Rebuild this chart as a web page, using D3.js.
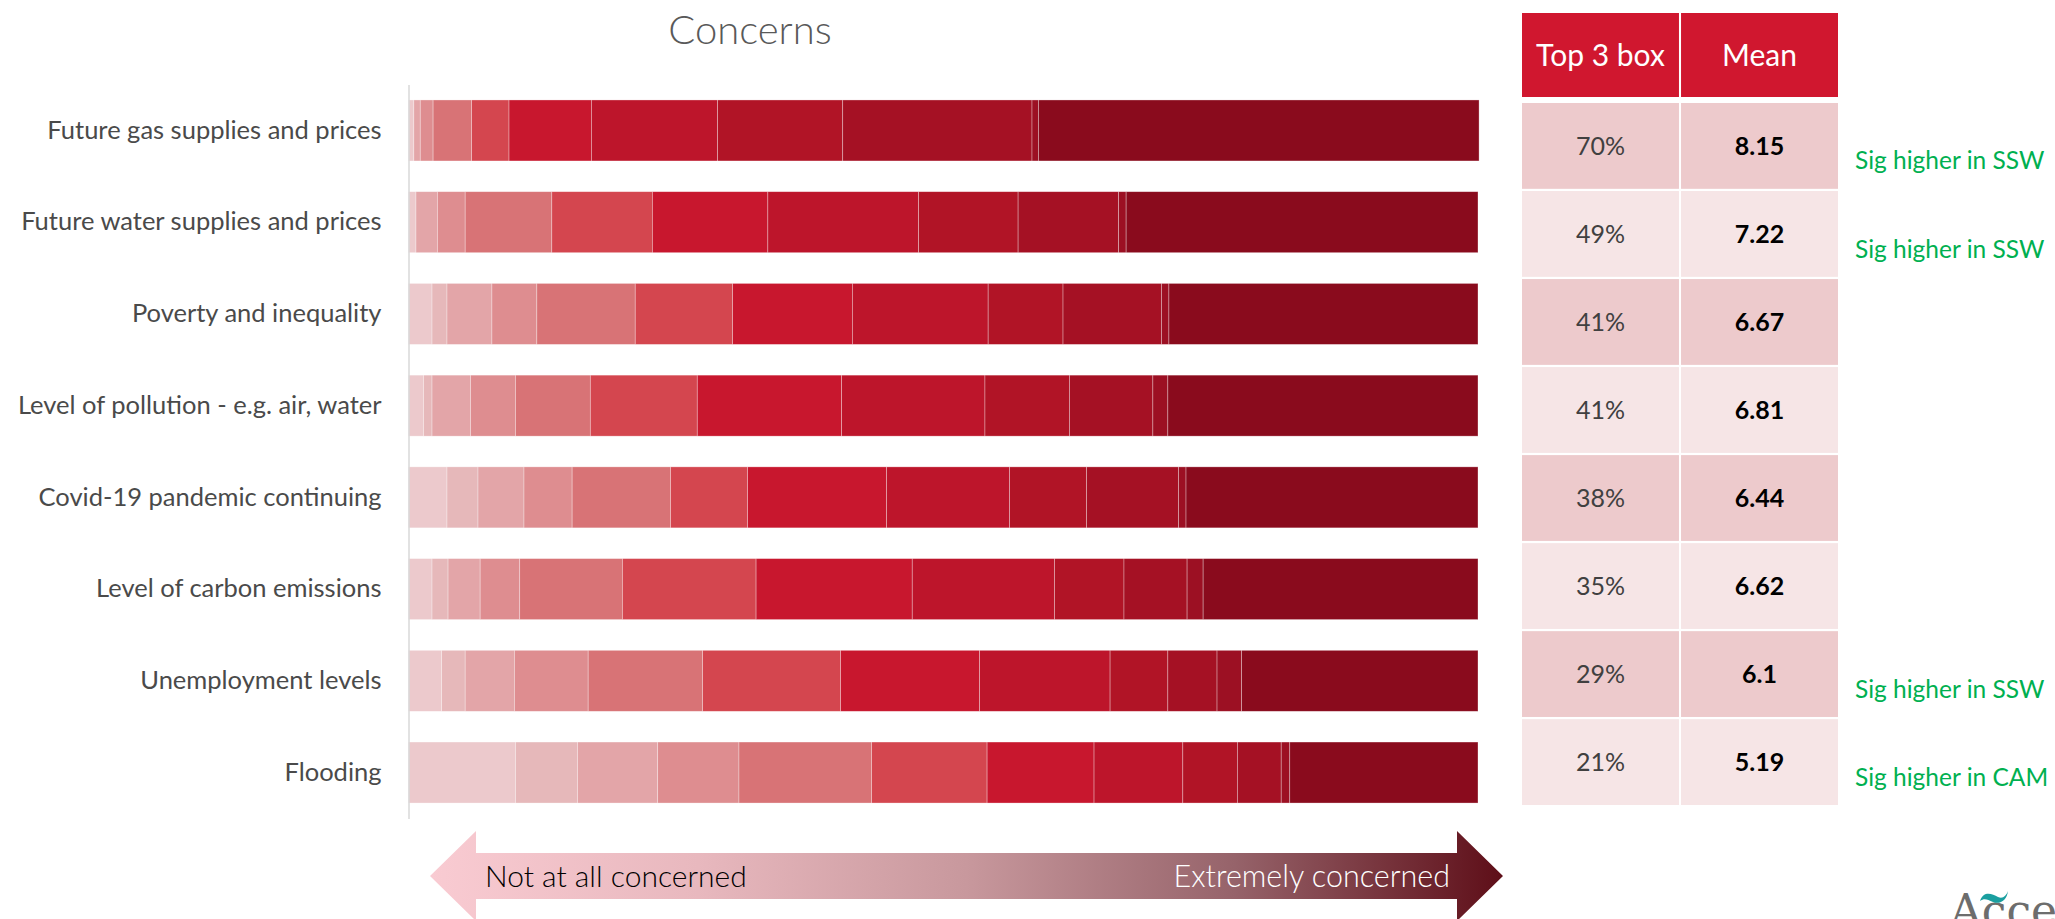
<!DOCTYPE html>
<html>
<head>
<meta charset="utf-8">
<script src="https://cdn.jsdelivr.net/npm/d3@7"></script>
<style>
  html, body { margin: 0; padding: 0; background: #ffffff; }
  svg { display: block; font-family: Lato, "Open Sans", "Noto Sans", sans-serif; }
</style>
</head>
<body>
<svg id="chart" width="2055" height="919"></svg>
<script>
// ---------------- DATA ----------------
const categories = [
  "Future gas supplies and prices",
  "Future water supplies and prices",
  "Poverty and inequality",
  "Level of pollution - e.g. air, water",
  "Covid-19 pandemic continuing",
  "Level of carbon emissions",
  "Unemployment levels",
  "Flooding"
];

// response levels, from "Not at all concerned" to "Extremely concerned"
const levels = ["0", "1", "2", "3", "4", "5", "6", "7", "8", "9", "Other", "10"];

// share of respondents (%) per level, one array per concern
const gas          = [0.5, 0.0, 0.6, 1.2, 3.6, 3.5, 7.7, 11.8, 11.7, 17.7, 0.6, 41.2];
const water        = [0.7, 0.0, 2.0, 2.6, 8.1, 9.4, 10.8, 14.1, 9.3, 9.4, 0.7, 32.9];
const poverty      = [2.2, 1.4, 4.2, 4.2, 9.2, 9.1, 11.2, 12.7, 7.0, 9.2, 0.7, 28.9];
const pollution    = [1.4, 0.8, 3.6, 4.2, 7.0, 10.0, 13.5, 13.4, 7.9, 7.8, 1.4, 29.0];
const covid        = [3.6, 2.9, 4.3, 4.5, 9.2, 7.2, 13.0, 11.5, 7.2, 8.6, 0.7, 27.3];
const carbon       = [2.2, 1.5, 3.0, 3.7, 9.6, 12.5, 14.6, 13.3, 6.5, 5.9, 1.5, 25.7];
const unemployment = [3.1, 2.2, 4.6, 6.9, 10.7, 12.9, 13.0, 12.2, 5.4, 4.6, 2.3, 22.1];
const flooding     = [10.0, 5.8, 7.5, 7.6, 12.4, 10.8, 10.0, 8.3, 5.1, 4.1, 0.8, 17.6];

const shares = [gas, water, poverty, pollution, covid, carbon, unemployment, flooding];

const tableHeaders = ["Top 3 box", "Mean"];
const top3box = [70, 49, 41, 41, 38, 35, 29, 21];
const means   = [8.15, 7.22, 6.67, 6.81, 6.44, 6.62, 6.1, 5.19];
const sigNotes = ["Sig higher in SSW", "Sig higher in SSW", "", "", "", "", "Sig higher in SSW", "Sig higher in CAM"];

const levelColors = ["#ecc9cc", "#e6b8ba", "#e3a5a8", "#de8d90", "#d87376", "#d4464f",
                     "#c8172e", "#bd152b", "#b11426", "#a51124", "#9c1023", "#8a0b1d"];

// ---------------- CHART ----------------
const svg = d3.select("#chart");

const rows = categories.map((c, i) => {
  const r = { category: c };
  levels.forEach((l, j) => { r[l] = shares[i][j]; });
  return r;
});

const x = d3.scaleLinear().domain([0, 100]).range([408.5, 1478]);
const y = d3.scaleBand().domain(categories).range([84.6, 818.4])
  .paddingInner(0.335).paddingOuter(0.1675);
const color = d3.scaleOrdinal().domain(levels).range(levelColors);

const stacked = d3.stack().keys(levels)(rows);

// title
svg.append("text")
  .attr("x", 750).attr("y", 44)
  .attr("text-anchor", "middle")
  .attr("font-size", 40).attr("font-weight", 300)
  .attr("fill", "#595959")
  .text("Concerns");

// bars
const layer = svg.append("g").attr("class", "bars");
layer.selectAll("g.series")
  .data(stacked)
  .join("g")
  .attr("class", "series")
  .attr("fill", d => color(d.key))
  .selectAll("rect")
  .data(d => d)
  .join("rect")
  .attr("x", d => x(d[0]))
  .attr("y", d => y(d.data.category))
  .attr("width", d => Math.max(0, x(d[1]) - x(d[0])))
  .attr("height", y.bandwidth())
  .attr("stroke", "#ffffff")
  .attr("stroke-opacity", 0.45)
  .attr("stroke-width", 0.7);

// category axis
const yAxis = svg.append("g")
  .attr("transform", `translate(${x(0)},0)`)
  .call(d3.axisLeft(y).tickSize(0).tickPadding(27));
yAxis.select(".domain").attr("stroke", "#d9d9d9").attr("stroke-width", 1.5);
yAxis.selectAll("text")
  .attr("font-family", 'Lato, "Open Sans", sans-serif')
  .attr("font-size", 25.5).attr("font-weight", 400)
  .attr("fill", "#4a4a4a");

// ---------------- TABLE ----------------
const col = d3.scaleBand().domain(tableHeaders).range([1522, 1838]).paddingInner(0.013);
const rowY = d3.scaleBand().domain(categories).range([103, 805]).paddingInner(0.025);

const header = svg.append("g").attr("class", "table-header");
header.selectAll("rect")
  .data(tableHeaders).join("rect")
  .attr("x", d => col(d)).attr("y", 13)
  .attr("width", col.bandwidth()).attr("height", 84)
  .attr("fill", "#d0172f");
header.selectAll("text")
  .data(tableHeaders).join("text")
  .attr("x", d => col(d) + col.bandwidth() / 2)
  .attr("y", 55).attr("dy", "0.35em")
  .attr("text-anchor", "middle")
  .attr("font-size", 30).attr("fill", "#ffffff")
  .text(d => d);

const tbody = svg.append("g").attr("class", "table-body");
categories.forEach((c, i) => {
  const fill = i % 2 === 0 ? "#edcacc" : "#f6e5e6";
  const cells = [
    { key: "Top 3 box", text: top3box[i] + "%", weight: 400, color: "#404040" },
    { key: "Mean", text: String(means[i]), weight: 700, color: "#000000" }
  ];
  const g = tbody.append("g");
  g.selectAll("rect").data(cells).join("rect")
    .attr("x", d => col(d.key)).attr("y", rowY(c))
    .attr("width", col.bandwidth()).attr("height", rowY.bandwidth())
    .attr("fill", fill);
  g.selectAll("text").data(cells).join("text")
    .attr("x", d => col(d.key) + col.bandwidth() / 2)
    .attr("y", rowY(c) + rowY.bandwidth() / 2).attr("dy", "0.35em")
    .attr("text-anchor", "middle")
    .attr("font-size", 25)
    .attr("font-weight", d => d.weight)
    .attr("fill", d => d.color)
    .text(d => d.text);
});

// significance notes
svg.append("g").selectAll("text")
  .data(categories.map((c, i) => ({ c, note: sigNotes[i] })).filter(d => d.note))
  .join("text")
  .attr("x", 1855)
  .attr("y", d => rowY(d.c) + rowY.bandwidth() / 2 + 15).attr("dy", "0.35em")
  .attr("font-size", 24.5).attr("font-weight", 400)
  .attr("fill", "#00b050")
  .text(d => d.note);

// ---------------- SCALE ARROW ----------------
const defs = svg.append("defs");
const grad = defs.append("linearGradient").attr("id", "arrowGrad")
  .attr("x1", "0%").attr("x2", "100%").attr("y1", "0%").attr("y2", "0%");
[[0, "#f9cbd2"], [0.25, "#e8b8be"], [0.5, "#c8989d"], [0.75, "#96636a"], [1, "#5e0e18"]]
  .forEach(([o, c]) => grad.append("stop").attr("offset", o).attr("stop-color", c));

const ax = { tipL: 430, baseL: 476, baseR: 1457, tipR: 1503, cy: 876, head: 45, shaft: 23 };
const arrowPts = [
  [ax.tipL, ax.cy], [ax.baseL, ax.cy - ax.head], [ax.baseL, ax.cy - ax.shaft],
  [ax.baseR, ax.cy - ax.shaft], [ax.baseR, ax.cy - ax.head], [ax.tipR, ax.cy],
  [ax.baseR, ax.cy + ax.head], [ax.baseR, ax.cy + ax.shaft], [ax.baseL, ax.cy + ax.shaft],
  [ax.baseL, ax.cy + ax.head]
];
svg.append("path")
  .attr("d", d3.line()(arrowPts) + "Z")
  .attr("fill", "url(#arrowGrad)");
svg.append("text")
  .attr("x", 485).attr("y", ax.cy).attr("dy", "0.35em")
  .attr("font-size", 30).attr("font-weight", 300).attr("fill", "#000000")
  .text("Not at all concerned");
svg.append("text")
  .attr("x", 1450).attr("y", ax.cy).attr("dy", "0.35em")
  .attr("text-anchor", "end")
  .attr("font-size", 30.5).attr("font-weight", 300).attr("fill", "#ffffff")
  .text("Extremely concerned");

// ---------------- LOGO (partially cut, as in the source slide) ----------------
svg.append("text")
  .attr("x", 1950).attr("y", 926)
  .attr("font-size", 44).attr("font-weight", 300)
  .attr("font-family", '"DejaVu Serif", serif')
  .attr("fill", "#6d6d6d")
  .text("Accen");
svg.append("path")
  .attr("d", "M1980,901 C1984,890 1992,894 1998,897 C2003,899 2006,896 2008,891 C2007,900 2000,905 1993,902 C1987,899 1984,898 1980,901 Z")
  .attr("fill", "#1a9fa0");
</script>
</body>
</html>
